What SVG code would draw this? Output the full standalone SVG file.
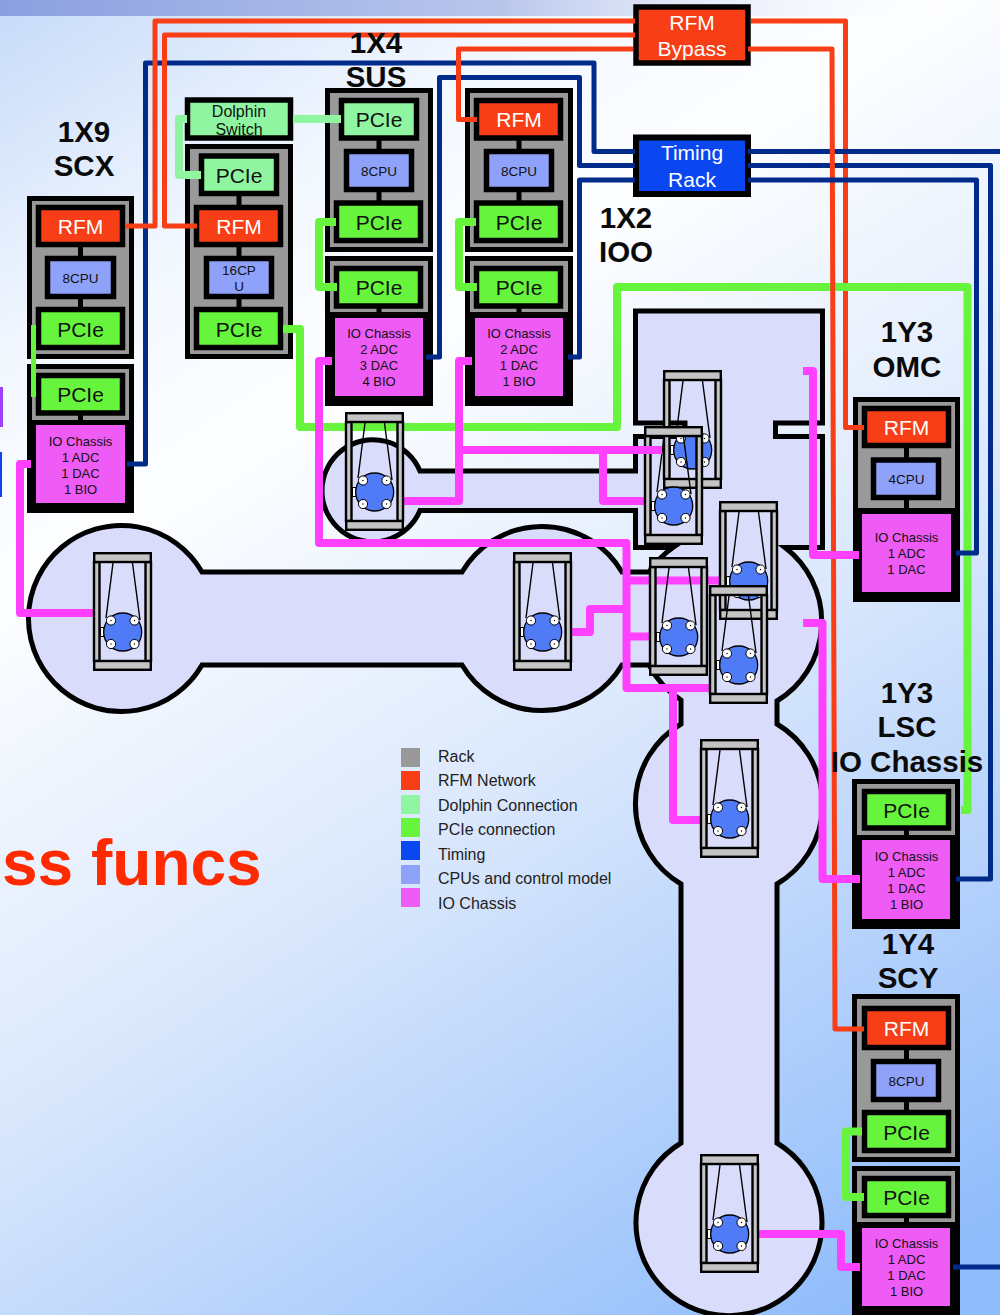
<svg xmlns="http://www.w3.org/2000/svg" xmlns:xlink="http://www.w3.org/1999/xlink" width="1000" height="1315" viewBox="0 0 1000 1315">
<defs>
<linearGradient id="bg" gradientUnits="userSpaceOnUse" x1="-20" y1="-10" x2="840" y2="1330">
<stop offset="0" stop-color="#c3d8f8"/><stop offset="0.2" stop-color="#f2f7ff"/><stop offset="0.33" stop-color="#fdfeff"/><stop offset="0.6" stop-color="#dbe8fc"/><stop offset="1" stop-color="#8fbcfb"/>
</linearGradient>
<linearGradient id="band" x1="0" y1="0" x2="1" y2="0">
<stop offset="0" stop-color="#8a9fe0"/><stop offset="0.5" stop-color="#b9c6ec"/><stop offset="0.95" stop-color="#ffffff" stop-opacity="0"/>
</linearGradient>
<g id="cage">
<rect class="cg" x="1" y="10" width="5.5" height="99"/>
<rect class="cg" x="52.5" y="10" width="5.5" height="99"/>
<rect class="cg" x="1.2" y="1.2" width="56.6" height="8.8"/>
<rect class="cg" x="1.2" y="109" width="56.6" height="8.8"/>
<path class="wr" d="M20 11L13 66M39.5 11L47 68"/>
<rect x="7.5" y="75.5" width="3.5" height="9" fill="#fff" stroke="#000" stroke-width="1"/>
<circle cx="29.7" cy="80" r="19" fill="#4f7bf7" stroke="#000" stroke-width="1.3"/>
<g fill="#fff" stroke="#000" stroke-width="1">
<circle cx="18" cy="68.5" r="4.6"/><circle cx="41.5" cy="68.5" r="4.6"/><circle cx="18" cy="92" r="4.6"/><circle cx="41.5" cy="92" r="4.6"/>
</g>
<g fill="#000">
<circle cx="18" cy="68.5" r="0.7"/><circle cx="41.5" cy="68.5" r="0.7"/><circle cx="18" cy="92" r="0.7"/><circle cx="41.5" cy="92" r="0.7"/>
</g>
</g>
</defs>
<style>
text{font-family:"Liberation Sans",Arial,sans-serif;text-anchor:middle;fill:#111}
.t{font-weight:bold;font-size:29.5px;fill:#0a0a0a}
.big{font-size:21px}
.w{fill:#fff}
.cpu{font-size:13.5px}
.io{font-size:13px}
.lg{font-size:16px;text-anchor:start;fill:#222}
.rack{fill:#999;stroke:#000;stroke-width:5}
.bk{fill:#000}
.gr{fill:#999}
.rfm{fill:#f73e17;stroke:#000;stroke-width:5.5}
.cp{fill:#8fa2fa;stroke:#000;stroke-width:5.5}
.pc{fill:#66f53c;stroke:#000;stroke-width:5.5}
.dl{fill:#90f5a0;stroke:#000;stroke-width:5.5}
.iof{fill:#ef5bf5}
.lk{stroke:#000;stroke-width:5;fill:none}
.cg{fill:#c4c4c4;stroke:#000;stroke-width:2.4}
.wr{fill:none;stroke:#000;stroke-width:1.4}
.c{fill:none;stroke-linejoin:round}
.o{stroke:#f73e17;stroke-width:5}
.n{stroke:#002b8a;stroke-width:5}
.g{stroke:#66f53c;stroke-width:8}
.d{stroke:#90f5a0;stroke-width:8}
.m{stroke:#ff40ff;stroke-width:8}
</style>
<rect width="1000" height="1315" fill="url(#bg)"/>
<rect width="1000" height="16" fill="url(#band)"/>
<rect x="0" y="387" width="3" height="40" fill="#a040ff"/>
<rect x="0" y="452" width="2" height="45" fill="#0a47f0"/>

<path id="vacuum-envelope" fill="#dadcfb" stroke="#000" stroke-width="5" stroke-linejoin="miter" d="M635.5 311H822.5V423H775.5V436.5H822.5V547.5H785A93 93 0 0 1 777 701V724A93 93 0 0 1 777 884V1143A93 93 0 1 1 681 1143V884A93 93 0 0 1 681 724V700A93 93 0 0 1 649 665H622A93 93 0 0 1 462 665H202A93 93 0 1 1 202 572H462A93 93 0 0 1 622 572H649A93 93 0 0 1 673 547.5H635.5V510.5H420A51 51 0 1 1 420 471H635.5V436.5H685V423H635.5Z"/>

<g id="rack-1x9-scx">
<rect class="rack" x="29.5" y="198.5" width="102" height="158"/>
<path class="lk" d="M80.5 245V258M80.5 296V310"/>
<rect class="rfm" x="38.5" y="207.5" width="84" height="37"/>
<rect class="cp" x="47.5" y="258.5" width="66" height="38"/>
<rect class="pc" x="38.5" y="309.5" width="84" height="38"/>
<rect class="bk" x="27" y="364" width="107" height="149"/>
<rect class="gr" x="32" y="369" width="97" height="51"/>
<path class="lk" d="M80.5 414V425"/>
<rect class="pc" x="38.5" y="375.5" width="84" height="37.5"/>
<rect class="iof" x="36" y="425" width="89" height="78"/>
<text class="big w" x="80.5" y="234">RFM</text>
<text class="cpu" x="80.5" y="283">8CPU</text>
<text class="big" x="80.5" y="337">PCIe</text>
<text class="big" x="80.5" y="402">PCIe</text>
<text class="io" x="80.5" y="446">IO Chassis</text><text class="io" x="80.5" y="462">1 ADC</text><text class="io" x="80.5" y="478">1 DAC</text><text class="io" x="80.5" y="494">1 BIO</text>
</g>

<g id="dolphin-switch">
<rect class="dl" x="187.5" y="100" width="103" height="38"/>
<text font-size="16" x="239" y="117">Dolphin</text><text font-size="16" x="239" y="135">Switch</text>
</g>

<g id="rack-mid">
<rect class="rack" x="187.5" y="146.5" width="103" height="210"/>
<path class="lk" d="M239 194V208M239 245V258M239 296V310"/>
<rect class="dl" x="201.5" y="156" width="75" height="37.5"/>
<rect class="rfm" x="196.5" y="207.5" width="84" height="37"/>
<rect class="cp" x="206.5" y="258.5" width="65" height="38"/>
<rect class="pc" x="196.5" y="309.5" width="84" height="38"/>
<text class="big" x="239" y="183">PCIe</text>
<text class="big w" x="239" y="234">RFM</text>
<text class="cpu" x="239" y="275">16CP</text><text class="cpu" x="239" y="291">U</text>
<text class="big" x="239" y="337">PCIe</text>
</g>

<g id="rack-1x4-sus">
<rect class="rack" x="327.5" y="90.5" width="103" height="159"/>
<path class="lk" d="M379 138V152M379 190V203"/>
<rect class="dl" x="341.5" y="100.5" width="75" height="37.5"/>
<rect class="cp" x="346.5" y="151.5" width="65" height="38"/>
<rect class="pc" x="336.5" y="203" width="84" height="37.5"/>
<rect class="bk" x="325" y="256" width="108" height="150"/>
<rect class="gr" x="330" y="261" width="98" height="51"/>
<path class="lk" d="M379 306V318"/>
<rect class="pc" x="336.5" y="268.5" width="84" height="37.5"/>
<rect class="iof" x="335" y="318" width="88" height="78"/>
<text class="big" x="379" y="127">PCIe</text>
<text class="cpu" x="379" y="176">8CPU</text>
<text class="big" x="379" y="230">PCIe</text>
<text class="big" x="379" y="295">PCIe</text>
<text class="io" x="379" y="338">IO Chassis</text><text class="io" x="379" y="354">2 ADC</text><text class="io" x="379" y="370">3 DAC</text><text class="io" x="379" y="386">4 BIO</text>
</g>

<g id="rack-1x2-ioo">
<rect class="rack" x="467.5" y="90.5" width="103" height="159"/>
<path class="lk" d="M519 138V152M519 190V203"/>
<rect class="rfm" x="476.5" y="100.5" width="84" height="37.5"/>
<rect class="cp" x="486.5" y="151.5" width="65" height="38"/>
<rect class="pc" x="476.5" y="203" width="84" height="37.5"/>
<rect class="bk" x="465" y="256" width="108" height="150"/>
<rect class="gr" x="470" y="261" width="98" height="51"/>
<path class="lk" d="M519 306V318"/>
<rect class="pc" x="476.5" y="268.5" width="84" height="37.5"/>
<rect class="iof" x="475" y="318" width="88" height="78"/>
<text class="big w" x="519" y="127">RFM</text>
<text class="cpu" x="519" y="176">8CPU</text>
<text class="big" x="519" y="230">PCIe</text>
<text class="big" x="519" y="295">PCIe</text>
<text class="io" x="519" y="338">IO Chassis</text><text class="io" x="519" y="354">2 ADC</text><text class="io" x="519" y="370">1 DAC</text><text class="io" x="519" y="386">1 BIO</text>
</g>

<g id="rfm-bypass">
<rect class="rfm" x="636" y="7" width="112" height="56"/>
<text class="big w" x="692" y="30">RFM</text><text class="big w" x="692" y="56">Bypass</text>
</g>
<g id="timing-rack">
<rect x="636" y="137.5" width="112" height="56.5" fill="#0a47f0" stroke="#000" stroke-width="6"/>
<text class="big w" x="692" y="160">Timing</text><text class="big w" x="692" y="187">Rack</text>
</g>

<g id="rack-1y3-omc">
<rect class="bk" x="853" y="397" width="107" height="205"/>
<rect class="gr" x="858" y="402" width="97" height="106"/>
<path class="lk" d="M906.5 446V460M906.5 498V514"/>
<rect class="rfm" x="864.5" y="408.5" width="84" height="37"/>
<rect class="cp" x="873.5" y="460" width="65" height="37.5"/>
<rect class="iof" x="862" y="514" width="89" height="78"/>
<text class="big w" x="906.5" y="435">RFM</text>
<text class="cpu" x="906.5" y="484">4CPU</text>
<text class="io" x="906.5" y="542">IO Chassis</text><text class="io" x="906.5" y="558">1 ADC</text><text class="io" x="906.5" y="574">1 DAC</text>
</g>

<g id="rack-1y3-lsc">
<rect class="bk" x="852" y="779" width="108" height="150"/>
<rect class="gr" x="857" y="784" width="98" height="51"/>
<path class="lk" d="M906.5 828V840"/>
<rect class="pc" x="864.5" y="791.5" width="84" height="36.5"/>
<rect class="iof" x="862" y="840" width="88" height="79"/>
<text class="big" x="906.5" y="818">PCIe</text>
<text class="io" x="906.5" y="861">IO Chassis</text><text class="io" x="906.5" y="877">1 ADC</text><text class="io" x="906.5" y="893">1 DAC</text><text class="io" x="906.5" y="909">1 BIO</text>
</g>

<g id="rack-1y4-scy">
<rect class="rack" x="854.5" y="996.5" width="103" height="163"/>
<path class="lk" d="M906.5 1048V1062M906.5 1100V1113"/>
<rect class="rfm" x="864.5" y="1008.5" width="84" height="39"/>
<rect class="cp" x="873.5" y="1061.5" width="65" height="38"/>
<rect class="pc" x="864.5" y="1112.5" width="84" height="38"/>
<rect class="bk" x="852" y="1166" width="108" height="149"/>
<rect class="gr" x="857" y="1171" width="98" height="51"/>
<path class="lk" d="M906.5 1216V1228"/>
<rect class="pc" x="864.5" y="1178.5" width="84" height="37"/>
<rect class="iof" x="862" y="1228" width="88" height="78"/>
<text class="big w" x="906.5" y="1036">RFM</text>
<text class="cpu" x="906.5" y="1086">8CPU</text>
<text class="big" x="906.5" y="1140">PCIe</text>
<text class="big" x="906.5" y="1205">PCIe</text>
<text class="io" x="906.5" y="1248">IO Chassis</text><text class="io" x="906.5" y="1264">1 ADC</text><text class="io" x="906.5" y="1280">1 DAC</text><text class="io" x="906.5" y="1296">1 BIO</text>
</g>

<g id="connectors">
<path class="c o" d="M751 21H845.5V427.5H864"/>
<path class="c n" d="M127 464H145.5V63H594V151.5H635"/>
<path class="c n" d="M426 357H439.5V77.5H579.5V165.5H635"/>
<path class="c n" d="M748 151.5H1000"/>
<path class="c n" d="M748 165.5H990.5V879H956"/>
<path class="c g" d="M283 329H300V427H617V287H967.5V810H961"/>
<path class="c o" d="M748 49H832L835 1029H864"/>
<path class="c n" d="M568 357H579.5V180H635"/>
<path class="c n" d="M748 180H976.5V553H956"/>
<path class="c n" d="M953 1267H1000"/>
<path class="c o" d="M125 226H155V21H635"/>
<path class="c o" d="M197 226H164.5V35H635"/>
<path class="c o" d="M477 119.5H458.5V49H633"/>
<path class="c g" style="stroke-width:5" d="M33.5 325V397"/>
<path class="c g" d="M336 222H319V287H337"/>
<path class="c g" d="M476 222H459V287H477"/>
<path class="c g" d="M862 1131.5H846V1197H864"/>
<path class="c d" d="M293 119H341"/>
<path class="c d" d="M187 119H179V175H201"/>
<path class="c m" d="M31 464H20V613H94"/>
<path class="c m" d="M332 361H319V543H626.5V688H709"/>
<path class="c m" d="M630 580.5H719"/>
<path class="c m" d="M630 636.5H650"/>
<path class="c m" d="M673 688V820H706"/>
<path class="c m" d="M572 632H590V609H626"/>
<path class="c m" d="M472 361H459V501H404"/>
<path class="c m" d="M603 450V501H645"/>
<path class="c m" d="M803 371H813V555H859"/>
<path class="c m" d="M803 623H822.5V879H860"/>
<path class="c m" d="M757 1234H841V1267H860"/>
</g>

<g id="suspensions">
<use href="#cage" xlink:href="#cage" x="93" y="552"/>
<use href="#cage" xlink:href="#cage" x="345" y="412"/>
<use href="#cage" xlink:href="#cage" x="513" y="552"/>
<use href="#cage" xlink:href="#cage" x="663" y="370"/>
<use href="#cage" xlink:href="#cage" x="644" y="426"/>
<use href="#cage" xlink:href="#cage" x="719" y="501"/>
<use href="#cage" xlink:href="#cage" x="649" y="557"/>
<use href="#cage" xlink:href="#cage" x="709" y="585"/>
<use href="#cage" xlink:href="#cage" x="700" y="739"/>
<use href="#cage" xlink:href="#cage" x="700" y="1154"/>
</g>

<g id="connectors-over-suspensions">
<path class="c m" d="M459 450H662"/>
</g>

<g id="labels">
<text class="t" x="84" y="141.5">1X9</text><text class="t" x="84" y="176">SCX</text>
<text class="t" x="376" y="53">1X4</text><text class="t" x="376" y="87">SUS</text>
<text class="t" x="626" y="228">1X2</text><text class="t" x="626" y="262">IOO</text>
<text class="t" x="907" y="342">1Y3</text><text class="t" x="907" y="377">OMC</text>
<text class="t" x="907" y="703">1Y3</text><text class="t" x="907" y="737">LSC</text><text class="t" x="907" y="772">IO Chassis</text>
<text class="t" x="908" y="954">1Y4</text><text class="t" x="908" y="988">SCY</text>
<text x="2" y="885" style="text-anchor:start;font-weight:bold;font-size:64px;fill:#ff2a00">ss funcs</text>
</g>

<g id="legend">
<rect x="401" y="748" width="19" height="19" fill="#999"/>
<rect x="401" y="771" width="19" height="19" fill="#f73e17"/>
<rect x="401" y="795" width="19" height="19" fill="#90f5a0"/>
<rect x="401" y="818" width="19" height="19" fill="#66f53c"/>
<rect x="401" y="841" width="19" height="19" fill="#0a47f0"/>
<rect x="401" y="865" width="19" height="19" fill="#8fa2fa"/>
<rect x="401" y="888" width="19" height="19" fill="#ef5bf5"/>
<text class="lg" x="438" y="762">Rack</text>
<text class="lg" x="438" y="786">RFM Network</text>
<text class="lg" x="438" y="811">Dolphin Connection</text>
<text class="lg" x="438" y="835">PCIe connection</text>
<text class="lg" x="438" y="860">Timing</text>
<text class="lg" x="438" y="884">CPUs and control model</text>
<text class="lg" x="438" y="909">IO Chassis</text>
</g>
</svg>
